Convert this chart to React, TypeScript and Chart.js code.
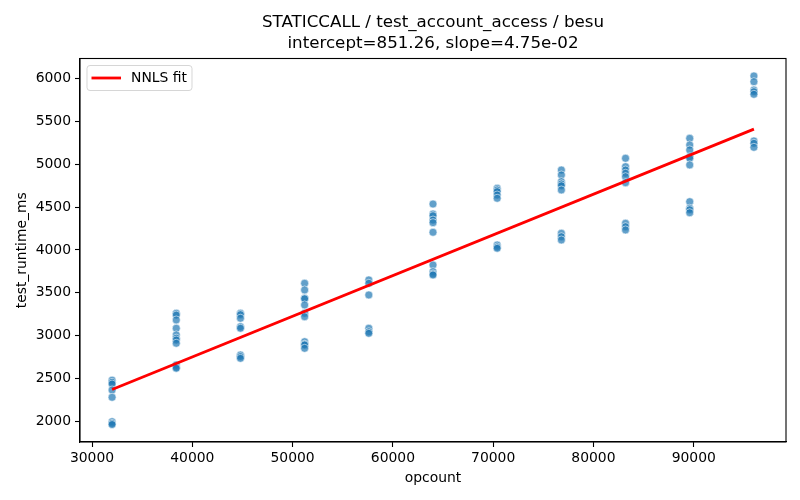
import { useEffect, useRef } from "react";
import { Chart, registerables, type ChartConfiguration, type Plugin } from "chart.js";

Chart.register(...registerables);

const FONT = "'DejaVu Sans', 'Liberation Sans', sans-serif";

const titleLines = ["STATICCALL / test_account_access / besu", "intercept=851.26, slope=4.75e-02"];
const xLabel = "opcount";
const yLabel = "test_runtime_ms";
const legendLabel = "NNLS fit";

// opcount values and the runtimes measured at each one (ms)
const opcounts = [32000, 38400, 44800, 51200, 57600, 64000, 70400, 76800, 83200, 89600, 96000];
const rt32000 = [2480, 2455, 2435, 2365, 2280, 1995, 1975, 1962];
const rt38400 = [3261, 3240, 3183, 3086, 3008, 2970, 2949, 2911, 2657, 2630, 2619];
const rt44800 = [3261, 3245, 3203, 3105, 3086, 2774, 2755, 2735];
const rt51200 = [3611, 3533, 3436, 3430, 3358, 3261, 3221, 2929, 2900, 2891, 2852];
const rt57600 = [3650, 3611, 3475, 3086, 3045, 3027];
const rt64000 = [4537, 4420, 4400, 4350, 4319, 4207, 3825, 3747, 3720, 3708];
const rt70400 = [4720, 4700, 4681, 4642, 4604, 4058, 4035, 4020];
const rt76800 = [4934, 4876, 4798, 4771, 4750, 4701, 4195, 4155, 4117];
const rt83200 = [5071, 4973, 4934, 4896, 4856, 4786, 4312, 4272, 4234];
const rt89600 = [5304, 5226, 5168, 5089, 5071, 4993, 4564, 4487, 4470, 4435];
const rt96000 = [6032, 5965, 5868, 5848, 5818, 5273, 5246, 5199];
const runtimes = [rt32000, rt38400, rt44800, rt51200, rt57600, rt64000, rt70400, rt76800, rt83200, rt89600, rt96000];

// fit line end points
const fitX = [32000, 96000];
const fitY = [2371.3, 5411.3];

const xTicks = [30000, 40000, 50000, 60000, 70000, 80000, 90000];
const yTicks = [2000, 2500, 3000, 3500, 4000, 4500, 5000, 5500, 6000];

const framePlugin: Plugin = {
  id: "frame",
  afterDraw(chart) {
    const { ctx, chartArea } = chart;
    const { left, right, top, bottom } = chartArea;
    ctx.save();
    ctx.strokeStyle = "#000";
    ctx.lineWidth = 1.1;
    ctx.strokeRect(left, top, right - left, bottom - top);

    // title
    ctx.fillStyle = "#000";
    ctx.font = `16.7px ${FONT}`;
    ctx.textAlign = "center";
    ctx.textBaseline = "middle";
    const cx = (left + right) / 2;
    ctx.fillText(titleLines[0], cx, 23);
    ctx.fillText(titleLines[1], cx, 44);

    // legend
    const lx = left + 7, ly = top + 7, lw = 105, lh = 25;
    ctx.beginPath();
    ctx.roundRect(lx, ly, lw, lh, 3);
    ctx.fillStyle = "rgba(255,255,255,0.8)";
    ctx.fill();
    ctx.strokeStyle = "rgba(204,204,204,0.8)";
    ctx.lineWidth = 1;
    ctx.stroke();
    ctx.beginPath();
    ctx.moveTo(lx + 4.5, ly + 12.5);
    ctx.lineTo(lx + 34, ly + 12.5);
    ctx.strokeStyle = "#ff0000";
    ctx.lineWidth = 2.8;
    ctx.stroke();
    ctx.fillStyle = "#000";
    ctx.font = `13.9px ${FONT}`;
    ctx.textAlign = "left";
    ctx.fillText(legendLabel, lx + 44, ly + 13);
    ctx.restore();
  },
};

export default function App() {
  const canvasRef = useRef<HTMLCanvasElement>(null);
  const chartRef = useRef<Chart | null>(null);

  useEffect(() => {
    document.body.style.margin = "0";
    const ctx = canvasRef.current?.getContext("2d");
    if (!ctx) return;
    chartRef.current?.destroy();

    const points = opcounts.flatMap((x, i) => runtimes[i].map((y) => ({ x, y })));
    const fitPoints = fitX.map((x, i) => ({ x, y: fitY[i] }));

    const tickFont = { family: FONT, size: 13.9 };

    const config: ChartConfiguration = {
      type: "scatter",
      data: {
        datasets: [
          {
            type: "line",
            label: legendLabel,
            data: fitPoints,
            borderColor: "#ff0000",
            borderWidth: 2.8,
            pointRadius: 0,
            fill: false,
            order: 0,
          },
          {
            type: "scatter",
            label: "samples",
            data: points,
            backgroundColor: "rgba(31,119,180,0.7)",
            borderColor: "rgba(255,255,255,0.7)",
            borderWidth: 0.8,
            pointRadius: 4,
            order: 1,
          },
        ],
      },
      options: {
        responsive: false,
        animation: false,
        layout: { padding: { top: 58.5, right: 14, left: 0, bottom: 0 } },
        plugins: {
          legend: { display: false },
          tooltip: { enabled: false },
          title: { display: false },
        },
        scales: {
          x: {
            type: "linear",
            min: 28800,
            max: 99200,
            afterBuildTicks: (s) => {
              s.ticks = xTicks.map((value) => ({ value }));
            },
            afterFit: (s) => {
              s.height = 58;
            },
            ticks: { color: "#000", font: tickFont, padding: 3, maxRotation: 0, callback: (v) => String(v) },
            grid: { drawOnChartArea: false, tickLength: 5, color: "#000", tickWidth: 1.1 },
            border: { display: true, color: "#000", width: 1.1 },
            title: { display: true, text: xLabel, color: "#000", font: tickFont, padding: { top: 0, bottom: 13 } },
          },
          y: {
            type: "linear",
            min: 1758,
            max: 6236,
            afterBuildTicks: (s) => {
              s.ticks = yTicks.map((value) => ({ value }));
            },
            afterFit: (s) => {
              s.width = 80;
            },
            ticks: { color: "#000", font: tickFont, padding: 4, callback: (v) => String(v) },
            grid: { drawOnChartArea: false, tickLength: 5, color: "#000", tickWidth: 1.1 },
            border: { display: true, color: "#000", width: 1.1 },
            title: { display: true, text: yLabel, color: "#000", font: tickFont, padding: { top: 14, bottom: 0 } },
          },
        },
      },
      plugins: [framePlugin],
    };

    chartRef.current = new Chart(ctx, config);
    return () => chartRef.current?.destroy();
  }, []);

  return (
    <div style={{ width: 800, height: 500, background: "#fff" }}>
      <canvas ref={canvasRef} width={800} height={500} />
    </div>
  );
}
